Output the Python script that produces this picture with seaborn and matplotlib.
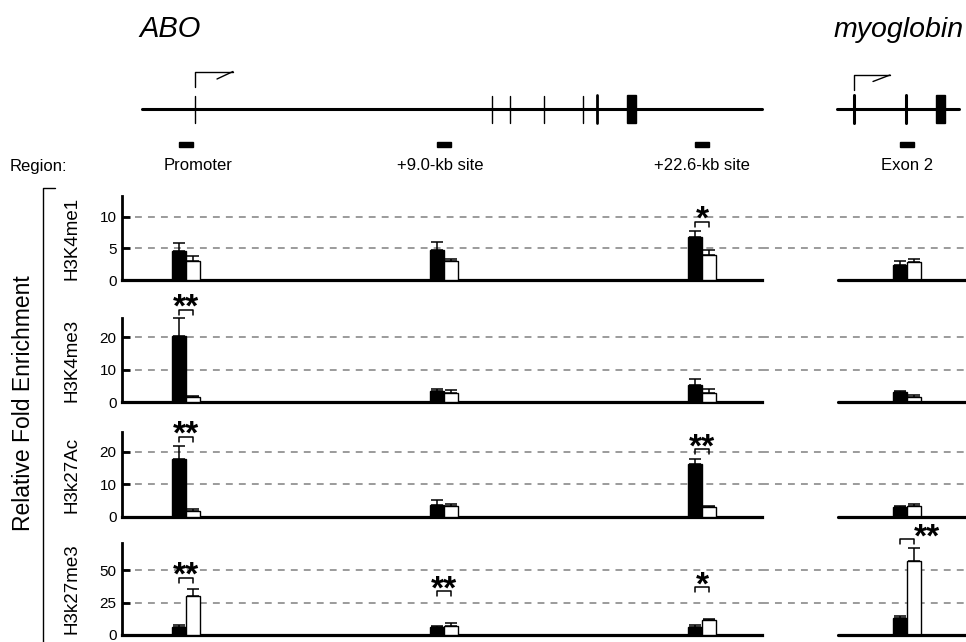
import matplotlib
matplotlib.use("Agg")
import numpy as np
import pandas as pd
import matplotlib.pyplot as plt
import matplotlib.transforms as mtransforms
import seaborn as sns

# Style
sns.set_theme(style="ticks")
plt.rcParams['font.family'] = ['Liberation Sans', 'DejaVu Sans']
plt.rcParams['axes.edgecolor'] = 'black'
plt.rcParams['xtick.color'] = 'black'
plt.rcParams['ytick.color'] = 'black'
plt.rcParams['text.color'] = 'black'
plt.rcParams['axes.labelcolor'] = 'black'

# ---- data ----
sites_abo = ['Promoter', '+9.0-kb site', '+22.6-kb site']
sites_myo = ['Exon 2']
marks = ['H3K4me1', 'H3K4me3', 'H3k27Ac', 'H3k27me3']
conditions = ['black', 'white']

# values per site: Promoter, +9.0-kb, +22.6-kb, Exon 2
h3k4me1_black = [4.6, 4.8, 6.8, 2.3]
h3k4me1_black_sd = [1.3, 1.2, 0.9, 0.7]
h3k4me1_white = [3.0, 3.0, 3.9, 2.8]
h3k4me1_white_sd = [0.8, 0.4, 0.9, 0.5]

h3k4me3_black = [20.5, 3.5, 5.2, 3.0]
h3k4me3_black_sd = [5.5, 0.5, 1.8, 0.5]
h3k4me3_white = [1.5, 2.8, 2.8, 1.7]
h3k4me3_white_sd = [0.5, 0.9, 1.2, 0.5]

h3k27ac_black = [17.7, 3.7, 16.3, 3.2]
h3k27ac_black_sd = [4.1, 1.5, 1.4, 0.2]
h3k27ac_white = [1.8, 3.4, 3.0, 3.4]
h3k27ac_white_sd = [0.7, 0.6, 0.4, 0.6]

h3k27me3_black = [6.0, 6.0, 6.0, 13.0]
h3k27me3_black_sd = [1.7, 1.2, 1.7, 1.4]
h3k27me3_white = [30.0, 7.2, 11.5, 57.0]
h3k27me3_white_sd = [5.4, 2.0, 0.8, 10.5]

yticks = [[0, 5, 10], [0, 10, 20], [0, 10, 20], [0, 25, 50]]
ytops = [13.3, 26, 26, 71]

# significance: (mark, site, label, bracket height)
significance = [
    ('H3K4me1', '+22.6-kb site', '*', 9.2),
    ('H3K4me3', 'Promoter', '**', 28.5),
    ('H3k27Ac', 'Promoter', '**', 24.6),
    ('H3k27Ac', '+22.6-kb site', '**', 20.7),
    ('H3k27me3', 'Promoter', '**', 44.0),
    ('H3k27me3', '+9.0-kb site', '**', 33.8),
    ('H3k27me3', '+22.6-kb site', '*', 36.9),
    ('H3k27me3', 'Exon 2', '**', 73.8),
]

means = {
    'H3K4me1': (h3k4me1_black, h3k4me1_white),
    'H3K4me3': (h3k4me3_black, h3k4me3_white),
    'H3k27Ac': (h3k27ac_black, h3k27ac_white),
    'H3k27me3': (h3k27me3_black, h3k27me3_white),
}
sds = {
    'H3K4me1': (h3k4me1_black_sd, h3k4me1_white_sd),
    'H3K4me3': (h3k4me3_black_sd, h3k4me3_white_sd),
    'H3k27Ac': (h3k27ac_black_sd, h3k27ac_white_sd),
    'H3k27me3': (h3k27me3_black_sd, h3k27me3_white_sd),
}

all_sites = sites_abo + sites_myo
rows = []
for m in marks:
    for ci, c in enumerate(conditions):
        for si, s in enumerate(all_sites):
            rows.append({'mark': m, 'site': s, 'condition': c,
                         'value': means[m][ci][si], 'sd': sds[m][ci][si]})
df = pd.DataFrame(rows)

# ---- layout (pixels) ----
W, H = 966, 642
BAR_W = 0.105
PX_UNIT = 258
row_px = [(196, 280), (318, 402), (432, 517), (543, 635)]
abo_x = (122, 762)
myo_x = (762, 1000)
myo_base_start = 838
STAR_SIZE = 24


def rect(x0, x1, y0, y1):
    return [x0 / W, 1 - y1 / H, (x1 - x0) / W, (y1 - y0) / H]


fig = plt.figure(figsize=(W / 100, H / 100), dpi=100)

# overlay for the schematic, in pixel units
ax0 = fig.add_axes([0, 0, 1, 1], zorder=-1)
ax0.set_xlim(0, W)
ax0.set_ylim(H, 0)
ax0.axis('off')


def draw_bars(ax, sub, order, mark, ytop):
    sns.barplot(data=sub, x='site', y='value', hue='condition', order=order,
                hue_order=conditions, palette=['black', 'white'], width=BAR_W,
                gap=0, edgecolor='black', linewidth=1.0, errorbar=None,
                legend=False, ax=ax, zorder=3)
    for ci, c in enumerate(conditions):
        d = sub[sub['condition'] == c].set_index('site').loc[order]
        xs = np.arange(len(order)) + (ci - 0.5) * BAR_W / 2
        ax.errorbar(xs, d['value'], yerr=[np.zeros(len(order)), d['sd']],
                    fmt='none', ecolor='black', elinewidth=1.1, capsize=4,
                    capthick=1.1, zorder=2, clip_on=False)
    # significance brackets
    drop = 5 / (ax.bbox.height) * ytop
    for m, s, lab, yb in significance:
        if m != mark or s not in order:
            continue
        i = order.index(s)
        x0, x1 = i - BAR_W / 4, i + BAR_W / 4
        ax.plot([x0, x0, x1, x1], [yb - drop, yb, yb, yb - drop], color='black',
                lw=1.1, clip_on=False, zorder=4)
        if s in sites_myo:
            ax.annotate(lab, (x1, yb), xytext=(0, -5), textcoords='offset points',
                        ha='left', va='baseline', fontsize=STAR_SIZE,
                        fontweight='bold', annotation_clip=False)
        else:
            ax.annotate(lab, ((x0 + x1) / 2, yb), xytext=(0, -5),
                        textcoords='offset points', ha='center', va='baseline',
                        fontsize=STAR_SIZE, fontweight='bold',
                        annotation_clip=False)
    ax.set_xlabel('')
    ax.set_ylabel('')
    ax.set_xticks([])
    ax.set_facecolor('none')


for r, mark in enumerate(marks):
    y0, y1 = row_px[r]
    sub = df[df['mark'] == mark]
    ax = fig.add_axes(rect(abo_x[0], abo_x[1], y0, y1))
    draw_bars(ax, sub[sub['site'].isin(sites_abo)], sites_abo, mark, ytops[r])
    ax.set_xlim(-(186 - 122) / PX_UNIT, 2 + (762 - 702) / PX_UNIT)
    ax.set_ylim(0, ytops[r])
    ax.set_yticks(yticks[r])
    ax.tick_params(axis='y', direction='in', length=6, width=2.0, labelsize=11, pad=4)
    ax.tick_params(axis='x', length=0)
    sns.despine(ax=ax)
    ax.spines['left'].set_linewidth(2.0)
    ax.spines['bottom'].set_linewidth(2.3)
    for t in yticks[r][1:]:
        ax.axhline(t, color='#808080', lw=1.1, ls=(0, (4.5, 4)), zorder=0)
    ax.set_ylabel(mark, fontsize=13.5)
    ax.yaxis.set_label_coords(-0.065, 0.5)

    axm = fig.add_axes(rect(myo_x[0], myo_x[1], y0, y1), sharey=ax)
    draw_bars(axm, sub[sub['site'].isin(sites_myo)], sites_myo, mark, ytops[r])
    axm.set_xlim(-(907 - 762) / PX_UNIT, (1000 - 907) / PX_UNIT)
    axm.set_ylim(0, ytops[r])
    axm.tick_params(left=False, labelleft=False, bottom=False)
    sns.despine(ax=axm, left=True, bottom=True)
    axm.axhline(0, xmin=(myo_base_start - myo_x[0]) / (myo_x[1] - myo_x[0]), xmax=1,
                color='black', lw=2.3, zorder=5, clip_on=False)
    for t in yticks[r][1:]:
        axm.axhline(t, color='#808080', lw=1.1, ls=(0, (4.5, 4)), zorder=0)
    if r == 0:
        ax_abo_top, ax_myo_top = ax, axm

# ---- gene schematic ----
lw_thin = 1.0
# ABO
ax0.plot([142, 762], [109, 109], color='black', lw=2.2)
for x in [195, 491.5, 510, 544, 583]:
    ax0.plot([x, x], [95.5, 123], color='black', lw=lw_thin)
ax0.plot([597, 597], [95, 123], color='black', lw=2.0)
ax0.add_patch(plt.Rectangle((626.5, 95), 9, 28, color='black'))
ax0.plot([195, 195, 233], [86.5, 71.5, 71.5], color='black', lw=lw_thin)
ax0.plot([233, 217], [71.5, 79], color='black', lw=lw_thin)
# myoglobin
ax0.plot([837, 959], [108.5, 108.5], color='black', lw=2.2)
for x in [854, 906]:
    ax0.plot([x, x], [95, 123], color='black', lw=2.2)
ax0.add_patch(plt.Rectangle((935.5, 95), 9.5, 28, color='black'))
ax0.plot([854, 854, 890], [90, 75, 75], color='black', lw=lw_thin)
ax0.plot([890, 873], [75, 81.5], color='black', lw=lw_thin)

# region markers aligned to the bar positions
tr_abo = mtransforms.blended_transform_factory(ax_abo_top.transData, ax0.transData)
tr_myo = mtransforms.blended_transform_factory(ax_myo_top.transData, ax0.transData)
for i, s in enumerate(sites_abo):
    ax0.add_patch(plt.Rectangle((i - 0.029, 141.5), 0.058, 5, color='black', transform=tr_abo))
ax0.add_patch(plt.Rectangle((-0.027, 141.5), 0.054, 5, color='black', transform=tr_myo))

label_x = [198, 440, 702, 907]
for x, s in zip(label_x, all_sites):
    ax0.text(x, 166, s, ha='center', va='center', fontsize=12)
ax0.text(10, 166, 'Region:', ha='left', va='center', fontsize=12)

ax0.text(139, 37, 'ABO', ha='left', va='baseline', fontsize=21, style='italic')
ax0.text(834, 37, 'myoglobin', ha='left', va='baseline', fontsize=20.5, style='italic')

# left bracket and common label
ax0.plot([55, 43, 43], [188, 188, 660], color='black', lw=1.0, clip_on=False)
ax0.text(24, 403, 'Relative Fold Enrichment', rotation=90, ha='center', va='center',
         fontsize=16.5)

fig.savefig('out.png', dpi=100)
